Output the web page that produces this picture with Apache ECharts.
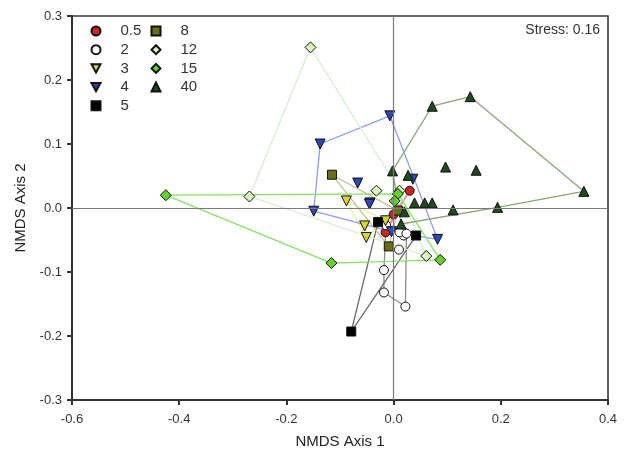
<!DOCTYPE html>
<html>
<head>
<meta charset="utf-8">
<script src="https://cdn.jsdelivr.net/npm/echarts@6/dist/echarts.min.js"></script>
<style>
  html, body { margin: 0; padding: 0; background: #fff; }
  #chart { width: 628px; height: 454px; }
</style>
</head>
<body>
<div id="chart"></div>
<script>
// NMDS scores per group, [axis1, axis2]
var g05 = [[0.030, 0.027], [-0.015, -0.038], [0.000, -0.010]]
var g2 = [[-0.018, -0.097], [-0.018, -0.132], [0.022, -0.154], [0.010, -0.065], [0.019, -0.043],
  [-0.014, -0.027], [0.011, -0.038], [0.024, -0.040]]
var g3 = [[-0.088, 0.011], [-0.054, -0.028], [-0.051, -0.046], [-0.015, -0.020]]
var g4 = [[-0.007, 0.144], [-0.137, 0.100], [-0.149, -0.005], [-0.067, 0.039], [-0.044, 0.008],
  [0.036, 0.045], [0.082, -0.049], [-0.004, -0.037], [-0.045, 0.006]]
var g5 = [[-0.079, -0.193], [0.042, -0.043], [-0.029, -0.022]]
var g8 = [[-0.115, 0.052], [-0.009, -0.060], [0.008, -0.004]]
var g12 = [[-0.155, 0.251], [-0.269, 0.018], [-0.032, 0.027], [0.011, 0.027], [0.061, -0.075]]
var g15 = [[-0.425, 0.020], [-0.116, -0.086], [0.087, -0.081], [0.008, 0.022], [0.002, 0.011]]
var g40 = [[0.072, 0.159], [0.143, 0.174], [0.355, 0.026], [0.194, 0.001], [0.111, -0.003],
  [0.097, 0.064], [0.154, 0.059], [-0.002, 0.058], [0.027, 0.051], [0.039, 0.008],
  [0.058, 0.008], [0.072, 0.008], [0.020, -0.006], [0.014, -0.025]]

var groupNames = ['0.5', '2', '3', '4', '5', '8', '12', '15', '40']
var groupData = [g05, g2, g3, g4, g5, g8, g12, g15, g40]
var fills = ['#d42222', '#ffffff', '#d8d82a', '#2a47c0', '#000000', '#6e6e14', '#dcf5bc', '#62d224', '#1e4a1e']
var hullColors = ['#e29a9a', '#8a8a8a', '#eeee9a', '#8c9cf0', '#6a6a6a', '#c2c290', '#d6eed0', '#86e266', '#8aa678']
var symbols = ['circle', 'circle', 'triangle', 'triangle', 'rect', 'rect', 'diamond', 'diamond', 'triangle']
var rotations = [0, 0, 180, 180, 0, 0, 0, 0, 0]
var downTri = 'path://M0,0 L10,0 L5,9 Z'

// convex hull (monotone chain), closed
function hull (pts) {
  var p = pts.slice().sort(function (a, b) { return a[0] - b[0] || a[1] - b[1] })
  if (p.length < 3) return p.concat([p[0]])
  var cross = function (o, a, b) { return (a[0] - o[0]) * (b[1] - o[1]) - (a[1] - o[1]) * (b[0] - o[0]) }
  var lower = []
  p.forEach(function (pt) {
    while (lower.length >= 2 && cross(lower[lower.length - 2], lower[lower.length - 1], pt) <= 0) lower.pop()
    lower.push(pt)
  })
  var upper = []
  p.slice().reverse().forEach(function (pt) {
    while (upper.length >= 2 && cross(upper[upper.length - 2], upper[upper.length - 1], pt) <= 0) upper.pop()
    upper.push(pt)
  })
  upper.pop(); lower.pop()
  var h = lower.concat(upper)
  return h.concat([h[0]])
}

var series = []
groupNames.forEach(function (name, i) {
  series.push({
    name: name + '_hull',
    type: 'line',
    data: hull(groupData[i]),
    symbol: 'none',
    silent: true,
    z: 1,
    lineStyle: { color: hullColors[i], width: 1.3 }
  })
})
// crosshair at zero
series.push({
  type: 'line',
  data: [],
  silent: true,
  z: 2,
  markLine: {
    silent: true,
    symbol: 'none',
    label: { show: false },
    lineStyle: { color: '#7a7a7a', width: 1.2, type: 'solid' },
    data: [{ xAxis: 0 }, { yAxis: 0 }]
  }
})
groupNames.forEach(function (name, i) {
  series.push({
    name: name,
    type: 'scatter',
    data: groupData[i],
    symbol: rotations[i] ? downTri : symbols[i],
    symbolSize: symbols[i] === 'diamond' ? 11 : (symbols[i] === 'triangle' ? 10 : 9),
    z: 3,
    itemStyle: { color: fills[i], borderColor: '#111', borderWidth: 1, opacity: 1 }
  })
})

function legendItems (names) {
  return names.map(function (n) {
    var i = groupNames.indexOf(n)
    return { name: n, icon: rotations[i] ? downTri : symbols[i] }
  })
}

var legendBase = {
  orient: 'vertical',
  itemWidth: 9,
  itemHeight: 9,
  itemGap: 2.7,
  padding: 0,
  selectedMode: false,
  textStyle: { fontFamily: 'Liberation Sans', fontSize: 15, lineHeight: 16, color: '#333', padding: [0, 0, 0, 15] }
}

var chart = echarts.init(document.getElementById('chart'))
chart.setOption({
  animation: false,
  backgroundColor: '#fff',
  grid: { left: 72, right: 20, top: 16, bottom: 52, show: true, borderColor: '#3a3a3a', borderWidth: 1.6 },
  legend: [
    Object.assign({}, legendBase, { left: 90.5, top: 23, data: legendItems(groupNames.slice(0, 5)) }),
    Object.assign({}, legendBase, { left: 150.5, top: 23, data: legendItems(groupNames.slice(5)) })
  ],
  graphic: [{
    type: 'text',
    right: 28,
    top: 23,
    style: { text: 'Stress: 0.16', font: '14px "Liberation Sans"', fill: '#333' }
  }],
  xAxis: {
    type: 'value',
    min: -0.6,
    max: 0.4,
    interval: 0.2,
    name: 'NMDS Axis 1',
    nameLocation: 'middle',
    nameGap: 34,
    nameTextStyle: { fontFamily: 'Liberation Sans', fontSize: 15, color: '#222' },
    axisLine: { show: true, onZero: false, lineStyle: { color: '#333', width: 2 } },
    axisTick: { show: true, length: 5, lineStyle: { color: '#333', width: 2 } },
    axisLabel: { fontFamily: 'Liberation Sans', fontSize: 13, color: '#333', margin: 13, formatter: function (v) { return v.toFixed(1) } },
    splitLine: { show: false }
  },
  yAxis: {
    type: 'value',
    min: -0.3,
    max: 0.3,
    interval: 0.1,
    name: 'NMDS Axis 2',
    nameLocation: 'middle',
    nameGap: 42,
    nameTextStyle: { fontFamily: 'Liberation Sans', fontSize: 15, color: '#222' },
    axisLine: { show: true, onZero: false, lineStyle: { color: '#333', width: 2 } },
    axisTick: { show: true, length: 5, lineStyle: { color: '#333', width: 2 } },
    axisLabel: { fontFamily: 'Liberation Sans', fontSize: 13, color: '#333', margin: 10, formatter: function (v) { return v.toFixed(1) } },
    splitLine: { show: false }
  },
  series: series
})
</script>
</body>
</html>
